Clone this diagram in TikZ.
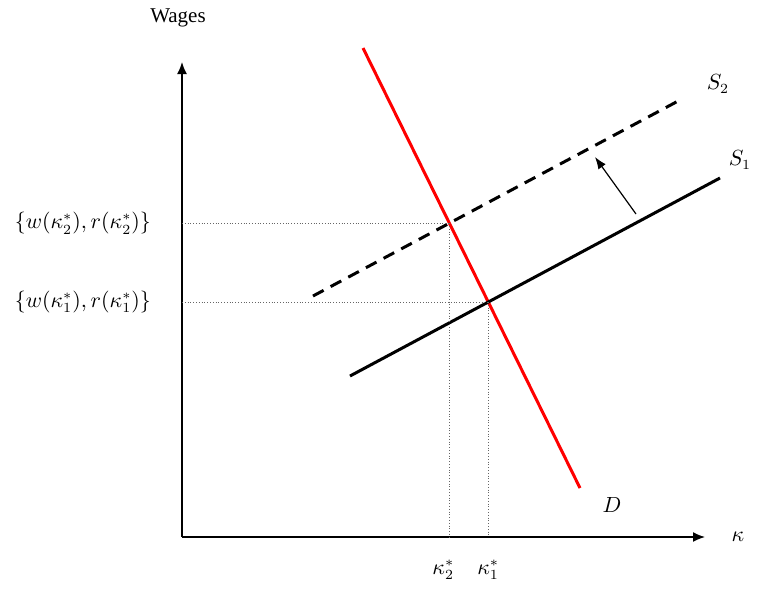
\documentclass[tikz,border=0pt]{standalone}
\usepackage{fontspec}
\setmainfont{Liberation Serif}
\usetikzlibrary{arrows.meta}
\usetikzlibrary{intersections}
\usetikzlibrary{positioning}

\begin{document}
\begin{tikzpicture}[x=0.5pt,y=-0.5pt,font=\fontsize{10.5}{12}\selectfont,
	  axis line/.style={line width=0.8pt,-{Latex[length=6pt,width=5pt]}},
	  curve line/.style={line width=1.5pt},
	  guide line/.style={densely dotted,gray!80!black,line width=0.4pt},
	  shift arrow/.style={line width=0.6pt,-{Latex[length=6pt,width=4.5pt]}}]

	  \useasboundingbox (0,0) rectangle (782,591);

	  % axes
	  \coordinate (O) at (182,537);
	  \coordinate (ytop) at (182,62);
	  \coordinate (xend) at (705,537);
	  \draw[axis line] (O) -- (ytop);
	  \draw[axis line] (O) -- (xend);
	  \node (wages) at (178,18) {Wages};
	  \node (kappa) at (738,537) {$\kappa$};

	  % demand and supply curves
	  \coordinate (Dtop) at (363,48);
	  \coordinate (Dbot) at (580,488);
	  \coordinate (S1a) at (350,376);
	  \coordinate (S1b) at (720,178);
	  \coordinate (S2a) at (313,296);
	  \coordinate (S2b) at (680,100);
	  \draw[curve line,red,name path=D] (Dtop) -- (Dbot);
	  \draw[curve line,name path=S1] (S1a) -- (S1b);
	  \draw[curve line,dash pattern=on 6pt off 4pt,name path=S2] (S2a) -- (S2b);
	  \node (Slab2) at (718,84) {$S_2$};
	  \node (Slab1) at (740,160) {$S_1$};
	  \node (Dlab) at (612,505) {$D$};

	  % equilibria
	  \path[name intersections={of=D and S1,by=E1}];
	  \path[name intersections={of=D and S2,by=E2}];
	  \draw[guide line] (O |- E1) -- (E1);
	  \draw[guide line] (O |- E2) -- (E2);
	  \draw[guide line] (E1) -- (E1 |- O);
	  \draw[guide line] (E2) -- (E2 |- O);
	  \node[left=12pt] (w1) at (O |- E1) {$\{w(\kappa_1^*),r(\kappa_1^*)\}$};
	  \node[left=12pt] (w2) at (O |- E2) {$\{w(\kappa_2^*),r(\kappa_2^*)\}$};
	  \node[below=8pt] (k1) at (E1 |- O) {$\kappa_1^*$};
	  \node[below=8pt,xshift=-3pt] (k2) at (E2 |- O) {$\kappa_2^*$};

	  % shift of supply
	  \coordinate (shiftfrom) at (636,214);
	  \coordinate (shiftto) at (595,157);
	  \draw[shift arrow] (shiftfrom) -- (shiftto);
	\end{tikzpicture}
\end{document}
